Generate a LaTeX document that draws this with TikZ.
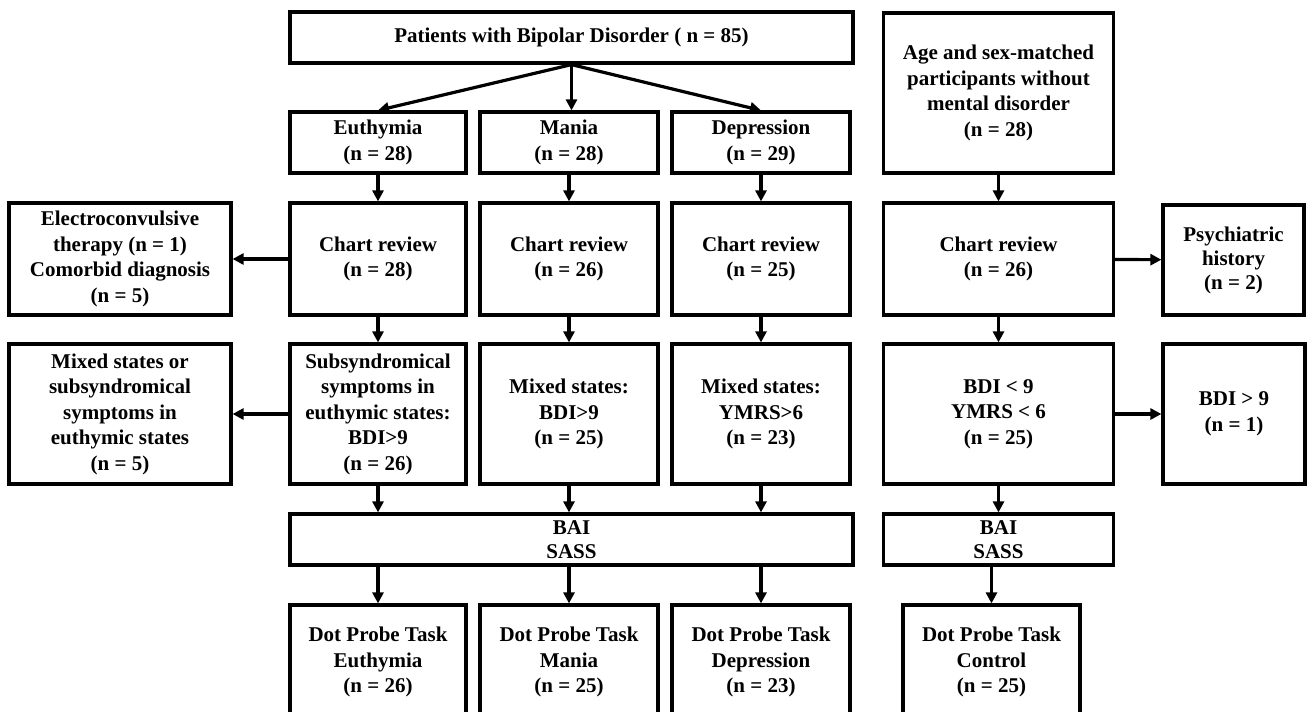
\documentclass[tikz,border=0pt]{standalone}
\usepackage{fontspec}
\setmainfont{Liberation Serif}
\usetikzlibrary{arrows.meta}

\begin{document}
\begin{tikzpicture}[x=1pt,y=-1pt,
  box/.style={draw=black, line width=3.2pt, rectangle, inner sep=0pt, align=center,
    font=\fontsize{21}{25.5}\selectfont\bfseries},
  arr/.style={line width=3.2pt, -{Triangle[length=11pt,width=11pt]}}]
\useasboundingbox (0,0) rectangle (1307,712);
\fill[white] (0,0) rectangle (1307,712);
% Drawing boxes
% Row 0: patients and controls
\node[box, minimum width=563pt, minimum height=51pt] (pat) at (571.5,37.5) {Patients with Bipolar Disorder ( n = 85)};
\node[box, minimum width=230pt, minimum height=160pt] (ctrl) at (998.5,93) {Age and sex-matched\\participants without\\mental disorder\\(n = 28)};
% Row 1: mood states
\node[box, minimum width=176pt, minimum height=61pt] (euth) at (378,142.5) {Euthymia\\(n = 28)};
\node[box, minimum width=178pt, minimum height=61pt] (mania) at (569,142.5) {Mania\\(n = 28)};
\node[box, minimum width=178pt, minimum height=61pt] (depr) at (761,142.5) {Depression\\(n = 29)};
% Row 2: chart review
\node[box, minimum width=222pt, minimum height=112pt] (ect) at (120,259) {Electroconvulsive\\therapy (n = 1)\\Comorbid diagnosis\\(n = 5)};
\node[box, minimum width=176pt, minimum height=112pt] (chartE) at (378,259) {Chart review\\(n = 28)};
\node[box, minimum width=178pt, minimum height=112pt] (chartM) at (569,259) {Chart review\\(n = 26)};
\node[box, minimum width=178pt, minimum height=112pt] (chartD) at (761,259) {Chart review\\(n = 25)};
\node[box, minimum width=230pt, minimum height=112pt] (chartC) at (998.5,259) {Chart review\\(n = 26)};
\node[box, minimum width=141pt, minimum height=110pt, font=\fontsize{21}{24}\selectfont\bfseries] (psych) at (1233.5,260) {Psychiatric\\history\\(n = 2)};
% Row 3: mixed states
\node[box, minimum width=222pt, minimum height=140pt] (mixE) at (120,414) {Mixed states or\\subsyndromical\\symptoms in\\euthymic states\\(n = 5)};
\node[box, minimum width=176pt, minimum height=140pt] (subE) at (378,414) {Subsyndromical\\symptoms in\\euthymic states:\\BDI>9\\(n = 26)};
\node[box, minimum width=178pt, minimum height=140pt] (mixM) at (569,414) {Mixed states:\\BDI>9\\(n = 25)};
\node[box, minimum width=178pt, minimum height=140pt] (mixD) at (761,414) {Mixed states:\\YMRS>6\\(n = 23)};
\node[box, minimum width=230pt, minimum height=140pt] (bdiC) at (998.5,414) {BDI < 9\\YMRS < 6\\(n = 25)};
\node[box, minimum width=142pt, minimum height=140pt] (bdiX) at (1234,414) {BDI > 9\\(n = 1)};
% Row 4: scales
\node[box, minimum width=563pt, minimum height=51pt, font=\fontsize{21}{24}\selectfont\bfseries] (bai) at (571.5,539.5) {BAI\\SASS};
\node[box, minimum width=230pt, minimum height=51pt, font=\fontsize{21}{24}\selectfont\bfseries] (baiC) at (998.5,539.5) {BAI\\SASS};
% Row 5: dot probe task
\node[box, minimum width=176pt, minimum height=114pt] (dotE) at (378,662) {Dot Probe Task\\Euthymia\\(n = 26)};
\node[box, minimum width=178pt, minimum height=114pt] (dotM) at (569,662) {Dot Probe Task\\Mania\\(n = 25)};
\node[box, minimum width=178pt, minimum height=114pt] (dotD) at (761,662) {Dot Probe Task\\Depression\\(n = 23)};
\node[box, minimum width=177pt, minimum height=114pt] (dotC) at (991.5,662) {Dot Probe Task\\Control\\(n = 25)};
% Done with boxes; drawing arrows
\draw[arr] (pat.south) -- (euth.north);
\draw[arr] (pat.south) -- (pat.south |- mania.north);
\draw[arr] (pat.south) -- (depr.north);
\draw[arr] (euth) -- (chartE);
\draw[arr] (mania) -- (chartM);
\draw[arr] (depr) -- (chartD);
\draw[arr] (ctrl) -- (chartC);
\draw[arr] (chartE) -- (ect);
\draw[arr] (chartC) -- (psych);
\draw[arr] (chartE) -- (subE);
\draw[arr] (chartM) -- (mixM);
\draw[arr] (chartD) -- (mixD);
\draw[arr] (chartC) -- (bdiC);
\draw[arr] (subE) -- (mixE);
\draw[arr] (bdiC) -- (bdiX);
% Into and out of the scales
\draw[arr] (subE.south) -- (subE.south |- bai.north);
\draw[arr] (mixM.south) -- (mixM.south |- bai.north);
\draw[arr] (mixD.south) -- (mixD.south |- bai.north);
\draw[arr] (bdiC) -- (baiC);
\draw[arr] (bai.south -| dotE.north) -- (dotE.north);
\draw[arr] (bai.south -| dotM.north) -- (dotM.north);
\draw[arr] (bai.south -| dotD.north) -- (dotD.north);
\draw[arr] (baiC.south -| dotC.north) -- (dotC.north);
% Done with arrows
\end{tikzpicture}
\end{document}
